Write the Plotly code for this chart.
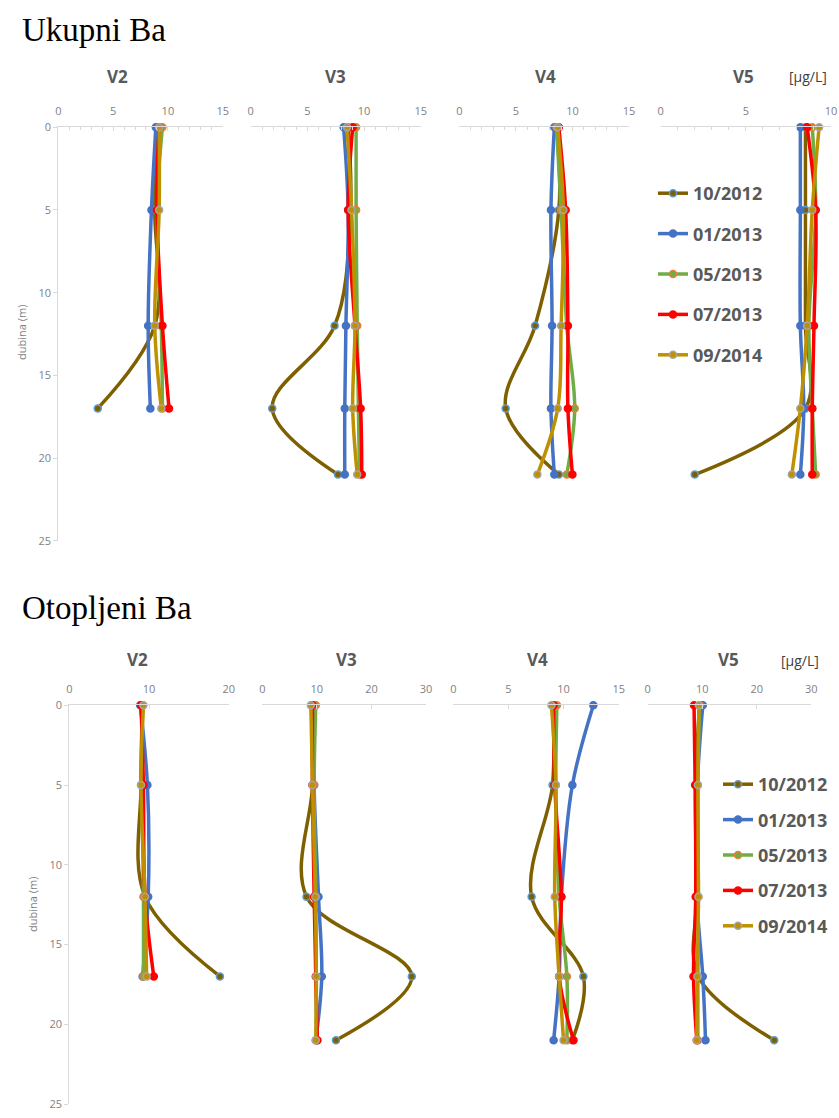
import plotly.graph_objects as go

W, H = 839, 1118

series = ["10/2012", "01/2013", "05/2013", "07/2013", "09/2014"]
line_colors = ["#7f6000", "#4472c4", "#70ad47", "#ff0000", "#bf9000"]
marker_edge = ["#5b9bd5", "#4472c4", "#ed7d31", "#ff0000", "#a5a5a5"]

stations = ["V2", "V3", "V4", "V5"]
depth = [0, 5, 12, 17, 21]
depth_V2 = [0, 5, 12, 17]

# Ukupni Ba (total), rows follow `series`
ukupni_V2 = [
    [9.0, 8.8, 8.8, 3.6],
    [8.9, 8.5, 8.2, 8.4],
    [9.5, 9.0, 9.4, 9.5],
    [9.2, 9.0, 9.5, 10.1],
    [9.2, 9.2, 8.8, 9.4],
]
ukupni_V3 = [
    [8.6, 8.8, 7.4, 1.9, 7.7],
    [8.2, 8.6, 8.4, 8.3, 8.3],
    [9.3, 9.3, 9.4, 9.5, 9.6],
    [9.0, 8.6, 9.2, 9.7, 9.8],
    [8.5, 8.9, 9.2, 9.0, 9.4],
]
ukupni_V4 = [
    [8.6, 8.8, 6.7, 4.1, 8.8],
    [8.4, 8.1, 8.2, 8.1, 8.4],
    [8.6, 9.0, 9.5, 10.2, 9.5],
    [8.8, 9.4, 9.6, 9.6, 10.0],
    [8.7, 9.2, 9.0, 8.7, 6.9],
]
ukupni_V5 = [
    [8.5, 8.5, 8.5, 8.5, 2.0],
    [8.2, 8.2, 8.2, 8.4, 8.2],
    [8.9, 9.1, 8.7, 8.9, 9.1],
    [8.6, 9.1, 9.0, 8.9, 8.9],
    [9.3, 8.9, 8.6, 8.2, 7.7],
]

# Otopljeni Ba (dissolved)
otopljeni_V2 = [
    [9.2, 9.0, 9.5, 18.9],
    [8.9, 9.8, 9.9, 9.2],
    [9.2, 9.1, 9.3, 9.3],
    [9.0, 9.3, 9.5, 10.6],
    [9.3, 9.0, 9.5, 9.7],
]
otopljeni_V3 = [
    [9.0, 9.2, 8.1, 27.4, 13.5],
    [9.6, 9.5, 10.3, 10.9, 9.8],
    [9.8, 9.5, 9.8, 9.9, 9.9],
    [9.2, 9.2, 9.5, 9.8, 10.1],
    [8.9, 9.2, 9.7, 9.9, 9.8],
]
otopljeni_V4 = [
    [9.0, 9.0, 7.1, 11.8, 10.8],
    [12.7, 10.8, 9.8, 9.6, 9.1],
    [9.4, 9.3, 9.6, 10.3, 10.3],
    [9.1, 9.2, 9.8, 9.6, 10.9],
    [8.9, 9.3, 9.2, 9.6, 10.0],
]
otopljeni_V5 = [
    [9.5, 8.8, 9.0, 9.3, 23.2],
    [10.1, 9.1, 9.0, 10.1, 10.6],
    [9.5, 9.2, 9.3, 9.2, 9.2],
    [8.5, 8.7, 8.8, 8.4, 9.0],
    [9.4, 9.2, 9.3, 9.1, 9.0],
]

top_xmax = [15, 15, 15, 10]
top_xdtick = [5, 5, 5, 5]
bot_xmax = [20, 30, 15, 30]
bot_xdtick = [10, 10, 5, 10]


def px(x):
    return x / W


def py(y):
    return 1 - y / H


panels = [
    dict(data=[ukupni_V2, ukupni_V3, ukupni_V4, ukupni_V5],
         xs=[(58.3, 222.7), (250.7, 420.7), (459.3, 629.0), (660.7, 831.0)],
         ys=(127.3, 540.7), xmax=top_xmax, dtick=top_xdtick, minor=True,
         legend="legend", tlab=(117, 335, 545, 743), ttl_y=77, unit=(808, 77),
         title="Ukupni Ba", title_y=30, ylab=(21, 333)),
    dict(data=[otopljeni_V2, otopljeni_V3, otopljeni_V4, otopljeni_V5],
         xs=[(69.3, 228.7), (262.3, 426.0), (453.3, 618.7), (647.7, 811.3)],
         ys=(705.3, 1104.0), xmax=bot_xmax, dtick=bot_xdtick, minor=False,
         legend="legend2", tlab=(137, 346, 537, 728), ttl_y=659, unit=(800, 660),
         title="Otopljeni Ba", title_y=608, ylab=(32, 905)),
]

fig = go.Figure()
layout = dict(width=W, height=H, margin=dict(l=0, r=0, t=0, b=0, pad=0, autoexpand=False),
              paper_bgcolor="white", plot_bgcolor="white", showlegend=True,
              template="none")
annotations = []
tickfont = dict(family="Open Sans", size=11, color="#7f7f7f")
axis_gray = "#d9d9d9"

k = 0
for p_i, P in enumerate(panels):
    for s_i, st in enumerate(stations):
        k += 1
        xa = "xaxis" if k == 1 else f"xaxis{k}"
        ya = "yaxis" if k == 1 else f"yaxis{k}"
        xid = "x" if k == 1 else f"x{k}"
        yid = "y" if k == 1 else f"y{k}"
        x0, x1 = P["xs"][s_i]
        y0, y1 = P["ys"]
        xax = dict(domain=[px(x0), px(x1)], anchor=yid, side="top",
                   range=[0, P["xmax"][s_i]], dtick=P["dtick"][s_i], tick0=0,
                   showgrid=False, zeroline=False, showline=True,
                   linecolor=axis_gray, linewidth=1, ticks="inside", ticklen=4,
                   tickcolor=axis_gray, tickfont=tickfont, fixedrange=True,
                   automargin=False, ticklabelstandoff=7)
        if P["minor"]:
            xax["minor"] = dict(ticks="inside", dtick=1, ticklen=3,
                                tickcolor=axis_gray, showgrid=False)
        layout[xa] = xax
        yax = dict(domain=[py(y1), py(y0)], anchor=xid, range=[25, 0],
                   showgrid=False, zeroline=False, fixedrange=True, automargin=False)
        if s_i == 0:
            yax.update(showline=True, linecolor=axis_gray, ticks="outside",
                       ticklen=4, tickcolor=axis_gray, dtick=5, tick0=0,
                       tickfont=tickfont)
        else:
            yax.update(visible=False)
        layout[ya] = yax

        rows = P["data"][s_i]
        dep = depth_V2 if st == "V2" else depth
        for r_i, name in enumerate(series):
            fig.add_trace(go.Scatter(
                x=rows[r_i], y=dep, xaxis=xid, yaxis=yid,
                mode="lines+markers", name=name,
                line=dict(color=line_colors[r_i], width=3.5, shape="spline",
                          smoothing=1.0),
                marker=dict(size=7, color=line_colors[r_i],
                            line=dict(color=marker_edge[r_i], width=1.5)),
                cliponaxis=False,
                legend=P["legend"], legendgroup=f"{P['legend']}_{r_i}",
                showlegend=(s_i == 3),
                hoverinfo="skip",
            ))
        annotations.append(dict(text=f"<b>{st}</b>", x=px(P["tlab"][s_i]),
                                y=py(P["ttl_y"]), xref="paper", yref="paper",
                                showarrow=False, xanchor="center", yanchor="middle",
                                font=dict(family="Open Sans", size=17, color="#595959")))
    annotations.append(dict(text="[μg/L]", x=px(P["unit"][0]), y=py(P["unit"][1]),
                            xref="paper", yref="paper", showarrow=False,
                            xanchor="center", yanchor="middle",
                            font=dict(family="Open Sans", size=14, color="#404040")))
    annotations.append(dict(text=P["title"], x=px(20), y=py(P["title_y"]),
                            xref="paper", yref="paper", showarrow=False,
                            xanchor="left", yanchor="middle",
                            font=dict(family="Liberation Serif", size=33, color="black")))
    annotations.append(dict(text="dubina (m)", x=px(P["ylab"][0]), y=py(P["ylab"][1]),
                            xref="paper", yref="paper", showarrow=False, textangle=-90,
                            xanchor="center", yanchor="middle",
                            font=dict(family="Open Sans", size=11, color="#7f7f7f")))

legend_font = dict(family="Open Sans", size=18, color="#595959", weight="bold")
layout["legend"] = dict(x=px(653), y=py(175), xanchor="left", yanchor="top",
                        bgcolor="rgba(0,0,0,0)", font=legend_font,
                        tracegroupgap=14, traceorder="grouped", itemwidth=30)
layout["legend2"] = dict(x=px(718), y=py(766), xanchor="left", yanchor="top",
                         bgcolor="rgba(0,0,0,0)", font=legend_font,
                         tracegroupgap=9, traceorder="grouped", itemwidth=30)
layout["annotations"] = annotations
fig.update_layout(**layout)

fig.write_html(
    "out.html",
    config={"displayModeBar": False, "staticPlot": True},
    post_script="document.body.style.margin='0';document.body.style.overflow='hidden';",
)
